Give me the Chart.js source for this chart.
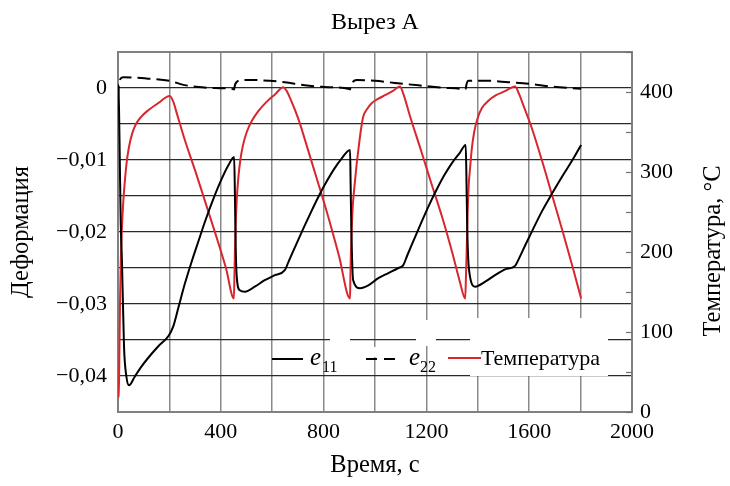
<!DOCTYPE html>
<html>
<head>
<meta charset="utf-8">
<script src="https://cdn.jsdelivr.net/npm/chart.js@4"></script>
<style>
  html, body { margin: 0; padding: 0; background: #fff; }
  canvas { display: block; }
</style>
</head>
<body>
<canvas id="c" width="730" height="486"></canvas>
<script>
// ---- data ----
const timeE11 = [0, 2, 4, 7, 10.5, 15.6, 23.4, 32.7, 42.9, 65, 91, 117, 156, 197, 215, 235, 260, 285, 310, 340, 370, 400, 430, 452, 455, 458, 462, 474, 494, 532, 571, 610, 649, 665, 690, 720, 750, 780, 810, 840, 870, 903, 905, 908, 915, 942, 974, 1013, 1052, 1091, 1110, 1125, 1150, 1180, 1210, 1240, 1270, 1300, 1330, 1353, 1356, 1359, 1366, 1390, 1429, 1467, 1506, 1545, 1560, 1585, 1615, 1650, 1690, 1730, 1770, 1802];
const e11 = [0.0005, -0.0005, -0.003, -0.01, -0.0185, -0.0243, -0.0359, -0.0401, -0.0413, -0.0401, -0.0387, -0.0375, -0.0359, -0.0344, -0.0331, -0.0305, -0.0272, -0.0243, -0.0216, -0.0184, -0.0155, -0.0129, -0.0107, -0.0096, -0.015, -0.022, -0.0262, -0.0281, -0.0283, -0.0276, -0.0267, -0.026, -0.0253, -0.024, -0.022, -0.0196, -0.0173, -0.0151, -0.0131, -0.0113, -0.0098, -0.0086, -0.013, -0.0197, -0.0267, -0.0278, -0.0274, -0.0264, -0.0257, -0.025, -0.0246, -0.0233, -0.0212, -0.0187, -0.0163, -0.0141, -0.0121, -0.0104, -0.009, -0.0079, -0.013, -0.0197, -0.0253, -0.0276, -0.0269, -0.026, -0.0252, -0.0247, -0.0237, -0.0218, -0.0196, -0.0171, -0.0146, -0.0122, -0.0099, -0.0079];

const timeE22 = [0, 3, 8, 19.5, 117, 201, 247, 312, 377, 442, 452, 455, 461, 480, 532, 590, 649, 727, 805, 896, 903, 906, 909, 929, 1000, 1078, 1169, 1260, 1331, 1352, 1356, 1363, 1441, 1519, 1597, 1675, 1802];
const e22 = [-0.0015, 0.0003, 0.0012, 0.0015, 0.0013, 0.001, 0.0005, 0.00014, 0.0, -0.0001, -0.0002, 0.0004, 0.0008, 0.0011, 0.0011, 0.001, 0.0008, 0.00037, 0.00014, -0.0001, -0.0002, 0.0003, 0.0006, 0.0011, 0.001, 0.0007, 0.00037, 0.00006, -0.0001, -0.0002, 0.0005, 0.001, 0.001, 0.0008, 0.0006, 0.00024, -0.0001];

const timeTemp = [0, 2, 4, 6, 8, 11, 15, 20, 26, 33, 42, 55, 70, 90, 117, 156, 201,
  215, 230, 260, 300, 340, 380, 420, 451,
  453, 455, 458, 462, 468, 476, 486, 501, 521, 546, 576, 611, 643,
  655, 670, 701, 740, 779, 818, 860, 903,
  904, 906, 909, 913, 918, 922, 928, 935, 944, 954, 970, 987, 1010, 1039, 1068, 1097,
  1110, 1136, 1180, 1220, 1260, 1300, 1330, 1351,
  1354, 1357, 1361, 1365, 1370, 1377, 1386, 1398, 1416, 1441, 1471, 1506, 1545,
  1560, 1580, 1610, 1650, 1690, 1730, 1770, 1802];
const temperature = [18, 20, 40, 90, 140, 190, 228, 260, 286, 310, 330, 348, 360, 369, 377, 386, 395,
  388, 372, 340, 302, 262, 222, 180, 142,
  170, 200, 235, 265, 292, 315, 333, 350, 364, 376, 387, 397, 406,
  402, 392, 367, 327, 286, 244, 195, 142,
  165, 195, 225, 255, 275, 288, 308, 327, 350, 369, 379, 386, 391, 396, 401, 407,
  398, 370, 326, 285, 245, 200, 163, 142,
  170, 205, 255, 285, 305, 330, 350, 366, 380, 389, 396, 401, 407,
  398, 381, 355, 314, 270, 226, 180, 142];

const xTicksLabeled = [0, 400, 800, 1200, 1600, 2000];
const legendLabels = ['e', '11', 'e', '22', 'Температура'];
const titleText = 'Вырез А';
const xTitle = 'Время, с';
const yTitle = 'Деформация';
const y2Title = 'Температура, °С';

const pts = (xs, ys) => xs.map((x, i) => ({ x: x, y: ys[i] }));

const FONT = 'Liberation Serif';
Chart.defaults.font.family = FONT;
Chart.defaults.color = '#000';

const RED = '#d8262e';

const decorPlugin = {
  id: 'decor',
  beforeDatasetsDraw(chart) {
    const { ctx, chartArea: a } = chart;
    ctx.save();
    // white patches behind the legend
    ctx.fillStyle = '#fff';
    const L = a.left, T = a.top;
    ctx.fillRect(L + 352, T + 266, 138, 58);
    ctx.fillRect(L + 298, T + 268, 20, 26);
    ctx.fillRect(L + 212, T + 284, 20, 10);
    ctx.fillRect(L + 254, T + 295, 6, 10);
    // frame
    ctx.strokeStyle = '#808080';
    ctx.lineWidth = 2;
    ctx.strokeRect(a.left, a.top, a.right - a.left, a.bottom - a.top);
    // inward ticks of the right axis
    const s = chart.scales.y2;
    ctx.lineWidth = 1.2;
    ctx.strokeStyle = '#707070';
    s.ticks.forEach(t => {
      const y = Math.round(s.getPixelForValue(t.value)) + 0.5;
      ctx.beginPath();
      ctx.moveTo(a.right - 6, y);
      ctx.lineTo(a.right, y);
      ctx.stroke();
    });
    ctx.restore();
  },
  afterDatasetsDraw(chart) {
    const { ctx, chartArea: a } = chart;
    const L = a.left, T = a.top;
    ctx.save();
    const ly = T + 307;
    ctx.lineWidth = 2;
    // e11
    ctx.strokeStyle = '#000';
    ctx.beginPath(); ctx.moveTo(L + 154, ly); ctx.lineTo(L + 185, ly); ctx.stroke();
    ctx.fillStyle = '#000';
    ctx.textBaseline = 'alphabetic';
    ctx.textAlign = 'left';
    ctx.font = 'italic 25px ' + FONT;
    ctx.fillText(legendLabels[0], L + 192, ly + 6);
    ctx.font = '16px ' + FONT;
    ctx.fillText(legendLabels[1], L + 204, ly + 13);
    // e22
    ctx.setLineDash([11, 7]);
    ctx.beginPath(); ctx.moveTo(L + 248, ly); ctx.lineTo(L + 281, ly); ctx.stroke();
    ctx.setLineDash([]);
    ctx.font = 'italic 25px ' + FONT;
    ctx.fillText(legendLabels[2], L + 291, ly + 6);
    ctx.font = '16px ' + FONT;
    ctx.fillText(legendLabels[3], L + 302, ly + 13);
    // temperature
    ctx.strokeStyle = RED;
    ctx.beginPath(); ctx.moveTo(L + 330, ly - 1); ctx.lineTo(L + 363, ly - 1); ctx.stroke();
    ctx.font = '22px ' + FONT;
    ctx.textBaseline = 'middle';
    ctx.fillText(legendLabels[4], L + 363, ly);
    // chart title, centred over the plot area
    ctx.textAlign = 'center';
    ctx.font = '24px ' + FONT;
    ctx.fillText(titleText, (a.left + a.right) / 2, 23);
    // right axis title (reads bottom to top)
    ctx.save();
    ctx.translate(714, (a.top + a.bottom) / 2 + 19);
    ctx.rotate(-Math.PI / 2);
    ctx.textAlign = 'center';
    ctx.textBaseline = 'middle';
    ctx.font = '24.5px ' + FONT;
    ctx.fillText(y2Title, 0, 0);
    ctx.restore();
    ctx.restore();
  }
};

new Chart(document.getElementById('c'), {
  type: 'line',
  data: {
    datasets: [
      {
        label: 'e11',
        data: pts(timeE11, e11),
        yAxisID: 'y',
        borderColor: '#000',
        borderWidth: 2,
        pointRadius: 0,
        cubicInterpolationMode: 'monotone',
        fill: false
      },
      {
        label: 'e22',
        data: pts(timeE22, e22),
        yAxisID: 'y',
        borderColor: '#000',
        borderWidth: 2,
        borderDash: [13, 6],
        pointRadius: 0,
        cubicInterpolationMode: 'monotone',
        fill: false
      },
      {
        label: 'Температура',
        data: pts(timeTemp, temperature),
        yAxisID: 'y2',
        borderColor: RED,
        borderWidth: 2,
        pointRadius: 0,
        cubicInterpolationMode: 'monotone',
        fill: false
      }
    ]
  },
  options: {
    responsive: false,
    animation: false,
    layout: { padding: { top: 52 } },
    plugins: {
      legend: { display: false },
      tooltip: { enabled: false },
      title: { display: false }
    },
    scales: {
      x: {
        type: 'linear',
        min: 0,
        max: 2000,
        ticks: {
          stepSize: 200,
          autoSkip: false,
          maxRotation: 0,
          padding: 7,
          font: { size: 22 },
          callback: v => (xTicksLabeled.includes(Math.round(v)) ? String(Math.round(v)) : '')
        },
        grid: { color: '#8a8a8a', lineWidth: 1.5, drawTicks: false },
        border: { display: false },
        title: { display: true, text: xTitle, font: { size: 24.5 }, padding: { top: 0, bottom: 6 } },
        afterFit: s => { s.height = 74; }
      },
      y: {
        type: 'linear',
        position: 'left',
        min: -0.045,
        max: 0.005,
        ticks: {
          stepSize: 0.005,
          autoSkip: false,
          padding: 11,
          font: { size: 22 },
          callback: v => {
            const k = Math.round(v * 1000);
            if (k % 10 !== 0) return '';
            if (k === 0) return '0';
            return (k < 0 ? '\u2212' : '') + '0,0' + (Math.abs(k) / 10);
          }
        },
        grid: { color: '#2a2a2a', lineWidth: 1.3, drawTicks: false },
        border: { display: false },
        title: { display: true, text: yTitle, font: { size: 24.5 }, padding: { top: 7, bottom: 0 } },
        afterFit: s => { s.width = 118; }
      },
      y2: {
        type: 'linear',
        position: 'right',
        min: 0,
        max: 450,
        ticks: {
          stepSize: 50,
          autoSkip: false,
          padding: 8,
          font: { size: 22 },
          callback: v => (Math.round(v) % 100 === 0 ? String(Math.round(v)) : '')
        },
        grid: { drawOnChartArea: false, drawTicks: false },
        border: { display: false },
        afterFit: s => { s.width = 98; }
      }
    }
  },
  plugins: [decorPlugin]
});
</script>
</body>
</html>
